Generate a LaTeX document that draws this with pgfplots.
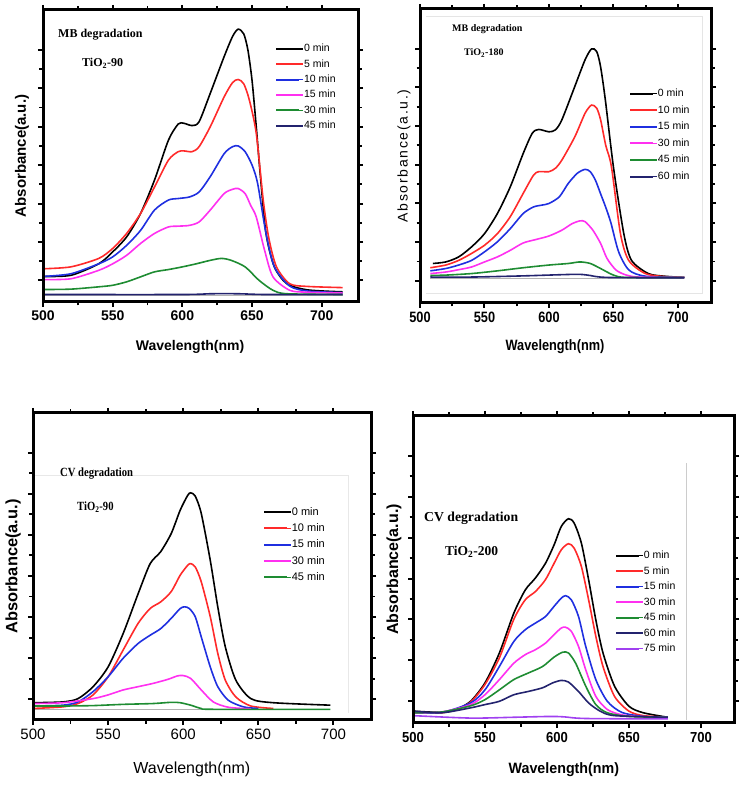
\documentclass[border=0pt]{standalone}
\usepackage{fontspec}
\setmainfont{Liberation Serif}
\setsansfont{Liberation Sans}
\newfontfamily\spacedsans[LetterSpace=12]{Liberation Sans}
\usepackage{graphicx}
\usepackage{pgfplots}
\pgfplotsset{compat=1.18}

\definecolor{cred}{HTML}{FF2A2A}
\definecolor{cblue}{HTML}{1F2FE0}
\definecolor{cmag}{HTML}{FF30F0}
\definecolor{cgreen}{HTML}{1E8C32}
\definecolor{cnavy}{HTML}{23236E}
\definecolor{cviolet}{HTML}{A040F0}

\newcommand{\nar}[1]{\scalebox{0.85}[1]{#1}}
\newcommand{\fs}[1]{\fontsize{#1}{#1}\selectfont}

\pgfplotsset{
  panel/.style={
    scale only axis,
    xtick={500,550,600,650,700}, minor x tick num=1,
    ytick={0,1,2,3,4,5,6}, minor y tick num=1, yticklabels={},
    tick align=outside,
    major tick style={black, line width=2pt},
    minor tick style={black, line width=1.8pt},
    major tick length=5pt, minor tick length=3.5pt,
    xticklabel style={anchor=north, inner sep=0pt, yshift=-4pt},
    clip=false,
    legend cell align=left,
    legend image code/.code={\draw[##1, line width=2pt] (0pt,0pt) -- (23pt,0pt); \path (0pt,0pt) -- (27pt,0pt);},
  },
  curve/.style={line width=1.6pt, smooth, tension=0.45},
  base/.style={line width=1.0pt, gray!60, forget plot},
}

\begin{document}
\begin{tikzpicture}
\path[use as bounding box] (0pt,0pt) rectangle (744pt,796pt);

% ================= Panel 1 =================
\begin{axis}[panel,
  at={(43pt,494pt)}, anchor=south west, width=315pt, height=292pt,
  xmin=500, xmax=726, ymin=-0.565, ymax=7.04,
  xticklabels={500,\raisebox{2pt}{550},600,650,700},
  xticklabel style={font=\sffamily\bfseries\fs{14}},
  xlabel={Wavelength(nm)},
  xlabel style={font=\sffamily\bfseries\fs{14}, at={(axis description cs:0.467,0)}, anchor=center, yshift=-45pt},
  ylabel={Absorbance(a.u.)},
  ylabel style={font=\sffamily\bfseries\fs{15}, at={(axis description cs:-0.067,0.5)}, anchor=center},
  legend style={draw=none, fill=none, inner sep=0pt, at={(axis description cs:0.737,0.885)}, anchor=north west,
    nodes={inner sep=0pt, text height=8pt, text depth=2pt}, row sep=5.4pt, font=\sffamily\fs{10.5}},
]
\addplot[base] coordinates {(500,-0.40) (715,-0.40)};
\addplot[base] coordinates {(500.7,-0.40) (500.7,0.65)};
\addplot[curve, black] coordinates {(500,0.10)(520,0.13)(540,0.43)(550,0.74)(560,1.13)(570,1.74)(580,2.61)(590,3.65)(597,4.07)(601,4.09)(607,4.03)(612,4.13)(620,4.87)(630,5.83)(636,6.35)(640,6.54)(644,6.42)(647,6.0)(650,5.2)(653,4.0)(656,2.7)(660,1.22)(666,0.35)(675,-0.09)(690,-0.25)(715,-0.30)};
\addlegendentry{0 min}
\addplot[curve, cred] coordinates {(500,0.30)(520,0.35)(540,0.57)(550,0.83)(560,1.22)(570,1.74)(580,2.43)(590,3.13)(597,3.35)(601,3.37)(607,3.35)(612,3.48)(620,4.0)(630,4.78)(636,5.15)(640,5.23)(644,5.12)(648,4.7)(653,3.83)(658,2.09)(662,1.1)(667.5,0.35)(677,-0.09)(690,-0.16)(715,-0.19)};
\addlegendentry{5 min}
\addplot[curve, cblue] coordinates {(500,0.10)(520,0.17)(540,0.43)(550,0.61)(560,0.91)(570,1.30)(580,1.83)(590,2.09)(597,2.13)(605,2.17)(612,2.30)(620,2.70)(630,3.30)(636,3.48)(640,3.50)(645,3.35)(650,3.0)(654,2.52)(660,1.22)(666,0.35)(677,-0.15)(690,-0.28)(715,-0.32)};
\addlegendentry{10 min}
\addplot[curve, cmag] coordinates {(500,0.02)(520,0.04)(540,0.26)(550,0.43)(560,0.65)(570,0.96)(580,1.22)(590,1.39)(597,1.41)(605,1.43)(612,1.52)(620,1.83)(630,2.26)(636,2.37)(640,2.39)(645,2.26)(649,1.95)(653,1.65)(659,0.78)(665,0.09)(677,-0.26)(690,-0.31)(715,-0.33)};
\addlegendentry{15 min}
\addplot[curve, cgreen] coordinates {(500,-0.24)(520,-0.23)(540,-0.17)(550,-0.13)(560,-0.04)(570,0.09)(580,0.22)(590,0.28)(600,0.35)(610,0.43)(620,0.52)(628,0.57)(635,0.52)(645,0.35)(655,0.0)(665,-0.26)(675,-0.35)(715,-0.37)};
\addlegendentry{30 min}
\addplot[curve, cnavy] coordinates {(500,-0.37)(600,-0.37)(620,-0.35)(640,-0.35)(660,-0.37)(715,-0.37)};
\addlegendentry{45 min}
\end{axis}
\draw[line width=3pt, black] (43pt,494pt) rectangle (358pt,786pt);

% ================= Panel 2 =================
\begin{axis}[panel,
  at={(420pt,493pt)}, anchor=south west, width=291pt, height=294pt,
  xmin=500, xmax=725.6, ymin=-0.57, ymax=7.02,
  xticklabels={\nar{500},\raisebox{2pt}{\nar{550}},\nar{600},\nar{650},\nar{700}},
  xticklabel style={font=\sffamily\bfseries\fs{15}},
  xlabel={\nar{Wavelength(nm)}},
  xlabel style={font=\sffamily\bfseries\fs{15}, at={(axis description cs:0.464,0)}, anchor=center, yshift=-44pt},
  ylabel={Absorbance(a.u.)},
  ylabel style={font=\spacedsans\fs{14}, at={(axis description cs:-0.055,0.5)}, anchor=center},
  legend style={draw=none, fill=none, inner sep=0pt, at={(axis description cs:0.718,0.730)}, anchor=north west,
    nodes={inner sep=0pt, text height=8pt, text depth=2pt}, row sep=6.6pt, font=\sffamily\fs{10.5}},
]
\addplot[base, gray!20, line width=0.8pt] coordinates {(504.4,-0.31) (718.6,-0.31) (718.6,6.83) (504.4,6.83)};
\addplot[base] coordinates {(508,0.06) (705,0.06)};
\addplot[curve, black] coordinates {(510,0.45)(520,0.49)(530,0.62)(540,0.88)(550,1.22)(560,1.74)(570,2.43)(580,3.29)(587,3.81)(592,3.91)(600,3.85)(605,3.90)(610,4.16)(620,5.02)(628,5.71)(633,5.99)(637,5.92)(640,5.53)(643.7,4.67)(650,2.93)(658,1.22)(664,0.53)(677,0.19)(690,0.12)(705,0.09)};
\addlegendentry{0 min}
\addplot[curve, cred] coordinates {(508,0.34)(520,0.41)(530,0.53)(540,0.71)(550,0.92)(560,1.22)(570,1.66)(580,2.26)(588,2.73)(592,2.82)(600,2.82)(605,2.91)(610,3.12)(620,3.72)(628,4.33)(633,4.54)(637,4.46)(640,4.16)(644,3.5)(648.4,2.95)(655.4,1.22)(661.8,0.53)(674.7,0.19)(690,0.11)(705,0.09)};
\addlegendentry{10 min}
\addplot[curve, cblue] coordinates {(508,0.26)(520,0.32)(530,0.41)(540,0.53)(550,0.75)(560,1.01)(570,1.35)(580,1.74)(588,1.91)(595,1.96)(600,2.0)(608,2.17)(615,2.52)(622,2.78)(628,2.88)(632,2.82)(636,2.6)(640,2.25)(644,1.9)(648,1.5)(654,0.75)(662,0.28)(675,0.12)(705,0.09)};
\addlegendentry{15 min}
\addplot[curve, cmag] coordinates {(508,0.19)(520,0.23)(530,0.29)(540,0.36)(550,0.49)(560,0.62)(570,0.79)(580,0.98)(590,1.07)(600,1.16)(610,1.31)(618,1.48)(624,1.55)(628,1.53)(634,1.31)(640,0.97)(645,0.58)(652,0.28)(660,0.15)(670,0.10)(705,0.09)};
\addlegendentry{30 min}
\addplot[curve, cgreen] coordinates {(508,0.14)(520,0.15)(540,0.19)(560,0.26)(580,0.34)(600,0.41)(615,0.45)(624,0.49)(632,0.45)(640,0.32)(650,0.15)(660,0.09)(705,0.09)};
\addlegendentry{45 min}
\addplot[curve, cnavy] coordinates {(508,0.10)(540,0.10)(580,0.13)(620,0.17)(630,0.15)(645,0.09)(705,0.08)};
\addlegendentry{60 min}
\end{axis}
\draw[line width=3pt, black] (420pt,493pt) rectangle (711pt,787pt);

% ================= Panel 3 =================
\begin{axis}[panel,
  at={(33pt,76pt)}, anchor=south west, width=338pt, height=307pt,
  xmin=500, xmax=725, ymin=-0.50, ymax=6.96,
  xticklabels={500,\raisebox{2pt}{550},600,650,700},
  xticklabel style={font=\sffamily\fs{15}},
  xlabel={Wavelength(nm)},
  xlabel style={font=\sffamily\fs{16}, at={(axis description cs:0.47,0)}, anchor=center, yshift=-49pt},
  ylabel={Absorbance(a.u.)},
  ylabel style={font=\sffamily\bfseries\fs{16.4}, at={(axis description cs:-0.059,0.5)}, anchor=center},
  legend style={draw=none, fill=none, inner sep=0pt, at={(axis description cs:0.680,0.695)}, anchor=north west,
    nodes={inner sep=0pt, text height=8.5pt, text depth=2.2pt}, row sep=5.6pt, font=\sffamily\fs{11}},
]
\addplot[base, gray!18, line width=0.8pt] coordinates {(500,5.45) (710,5.45) (710,-0.34)};
\addplot[base] coordinates {(500,-0.24) (698,-0.24)};
\addplot[curve, black] coordinates {(500,-0.08)(520,-0.06)(530,0.02)(540,0.31)(550,0.79)(560,1.60)(570,2.57)(578,3.30)(585,3.59)(592,4.03)(598,4.60)(603,4.96)(605,5.02)(608,4.94)(612,4.52)(618,3.38)(623,2.25)(628,1.28)(635,0.47)(645,0.02)(660,-0.08)(698,-0.14)};
\addlegendentry{0 min}
\addplot[curve, cred] coordinates {(500,-0.22)(520,-0.18)(530,-0.10)(540,0.11)(550,0.55)(560,1.20)(570,1.85)(578,2.21)(585,2.37)(592,2.62)(598,3.02)(603,3.26)(605,3.30)(608,3.22)(612,2.86)(618,2.01)(623,1.12)(628,0.47)(635,0.06)(645,-0.16)(660,-0.22)};
\addlegendentry{10 min}
\addplot[curve, cblue] coordinates {(500,-0.16)(520,-0.14)(530,-0.06)(540,0.19)(550,0.55)(560,1.00)(570,1.36)(578,1.56)(585,1.72)(592,1.97)(598,2.21)(601,2.25)(604,2.21)(608,2.01)(612,1.52)(618,0.79)(623,0.31)(630,-0.02)(640,-0.18)(650,-0.22)};
\addlegendentry{15 min}
\addplot[curve, cmag] coordinates {(500,-0.10)(520,-0.08)(540,0.02)(550,0.11)(560,0.23)(570,0.31)(580,0.39)(590,0.49)(596,0.57)(600,0.58)(605,0.51)(612,0.23)(620,-0.06)(630,-0.19)(645,-0.23)};
\addlegendentry{30 min}
\addplot[curve, cgreen] coordinates {(500,-0.16)(520,-0.16)(540,-0.15)(560,-0.12)(580,-0.10)(592,-0.07)(598,-0.08)(605,-0.14)(612,-0.22)(620,-0.24)(698,-0.24)};
\addlegendentry{45 min}
\end{axis}
\draw[line width=3pt, black] (33pt,76pt) rectangle (371pt,383pt);

% ================= Panel 4 =================
\begin{axis}[panel,
  at={(413pt,73pt)}, anchor=south west, width=321pt, height=307pt,
  xmin=500, xmax=723, ymin=-0.53, ymax=6.97,
  xticklabels={\scalebox{0.9}[1]{500},\raisebox{2pt}{\scalebox{0.9}[1]{550}},\scalebox{0.9}[1]{600},\scalebox{0.9}[1]{650},\scalebox{0.9}[1]{700}},
  xticklabel style={font=\sffamily\bfseries\fs{14.5}},
  xlabel={\scalebox{0.95}[1]{Wavelength(nm)}},
  xlabel style={font=\sffamily\bfseries\fs{15}, at={(axis description cs:0.47,0)}, anchor=center, yshift=-47pt},
  ylabel={Absorbance(a.u.)},
  ylabel style={font=\sffamily\bfseries\fs{16}, at={(axis description cs:-0.059,0.5)}, anchor=center},
  legend style={draw=none, fill=none, inner sep=0pt, at={(axis description cs:0.629,0.562)}, anchor=north west,
    nodes={inner sep=0pt, text height=8pt, text depth=2pt}, row sep=5.5pt, font=\sffamily\fs{10.5}},
]
\addplot[base, gray!40, line width=0.8pt] coordinates {(689.6,-0.45) (689.6,5.81)};
\addplot[curve, black] coordinates {(500,-0.24)(520,-0.27)(530,-0.20)(540,0.0)(550,0.45)(560,1.18)(570,2.15)(578,2.72)(585,3.01)(592,3.37)(598,3.82)(603,4.27)(608,4.46)(612,4.35)(617,3.86)(622,2.97)(627,1.99)(632,1.18)(640,0.37)(650,-0.12)(660,-0.28)(677,-0.39)};
\addlegendentry{0 min}
\addplot[curve, cred] coordinates {(500,-0.28)(520,-0.28)(530,-0.20)(540,-0.02)(550,0.41)(560,1.06)(570,2.0)(578,2.48)(585,2.68)(592,2.97)(598,3.37)(603,3.70)(608,3.85)(612,3.74)(617,3.29)(622,2.48)(627,1.59)(632,0.85)(640,0.12)(650,-0.24)(660,-0.35)(677,-0.39)};
\addlegendentry{5 min}
\addplot[curve, cblue] coordinates {(500,-0.28)(520,-0.27)(540,-0.04)(550,0.28)(560,0.85)(570,1.46)(578,1.75)(585,1.91)(592,2.07)(598,2.32)(603,2.52)(606,2.58)(610,2.48)(615,2.07)(620,1.34)(627,0.53)(635,0.0)(645,-0.27)(660,-0.37)(677,-0.39)};
\addlegendentry{15 min}
\addplot[curve, cmag] coordinates {(500,-0.28)(520,-0.26)(540,-0.08)(550,0.16)(560,0.53)(570,0.93)(578,1.14)(585,1.26)(592,1.42)(598,1.63)(603,1.79)(606,1.81)(610,1.71)(615,1.34)(620,0.77)(627,0.12)(635,-0.20)(645,-0.33)(660,-0.38)(677,-0.39)};
\addlegendentry{30 min}
\addplot[curve, cgreen] coordinates {(500,-0.28)(520,-0.26)(540,-0.11)(550,0.04)(560,0.28)(570,0.53)(580,0.69)(590,0.85)(598,1.08)(604,1.20)(608,1.18)(613,0.93)(620,0.37)(627,-0.08)(635,-0.28)(650,-0.37)(677,-0.39)};
\addlegendentry{45 min}
\addplot[curve, cnavy] coordinates {(500,-0.24)(520,-0.28)(540,-0.16)(550,-0.08)(560,0.0)(570,0.16)(580,0.24)(590,0.33)(597,0.45)(603,0.51)(608,0.47)(615,0.24)(622,-0.04)(630,-0.24)(640,-0.35)(677,-0.39)};
\addlegendentry{60 min}
\addplot[curve, cviolet] coordinates {(500,-0.35)(540,-0.41)(570,-0.39)(595,-0.37)(605,-0.38)(620,-0.42)(677,-0.43)};
\addlegendentry{75 min}
\end{axis}
\draw[line width=3pt, black] (413pt,73pt) rectangle (734pt,380pt);

% ================= Annotations =================
\node[anchor=west, inner sep=0pt] at (58pt,761pt) {\bfseries\fs{12}MB degradation};
\node[anchor=west, inner sep=0pt] at (82pt,733pt) {\bfseries\fs{12}TiO\textsubscript{2}-90};
\node[anchor=west, inner sep=0pt] at (452pt,767pt) {\bfseries\fs{10}MB degradation};
\node[anchor=west, inner sep=0pt] at (464pt,743pt) {\bfseries\fs{10}TiO\textsubscript{2}-180};
\node[anchor=west, inner sep=0pt] at (60pt,322pt) {\scalebox{0.85}[1]{\bfseries\fs{12.5}CV degradation}};
\node[anchor=west, inner sep=0pt] at (77pt,289pt) {\scalebox{0.85}[1]{\bfseries\fs{12.5}TiO\textsubscript{2}-90}};
\node[anchor=west, inner sep=0pt] at (424pt,278pt) {\bfseries\fs{13.7}CV degradation};
\node[anchor=west, inner sep=0pt] at (445pt,244pt) {\bfseries\fs{13.5}TiO\textsubscript{2}-200};
\end{tikzpicture}
\end{document}
